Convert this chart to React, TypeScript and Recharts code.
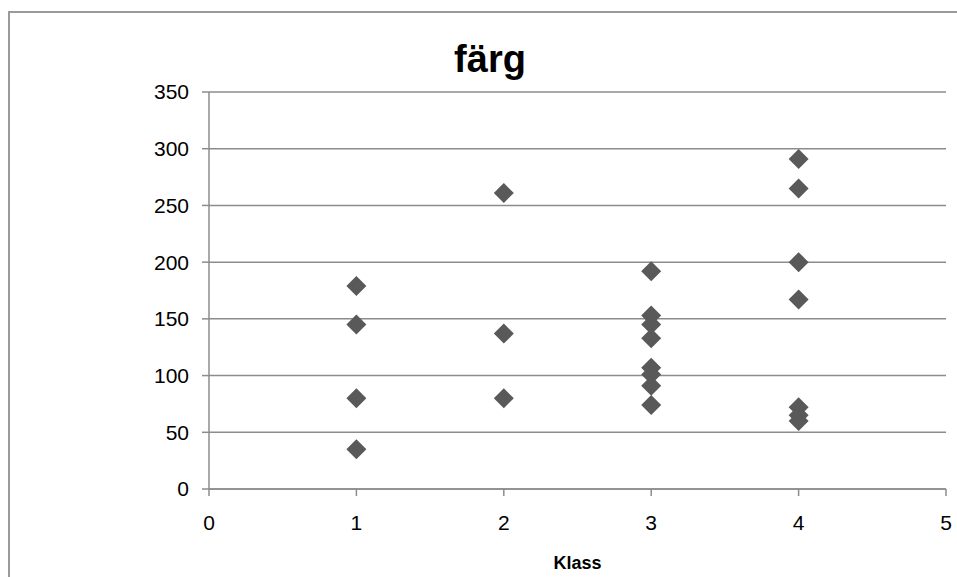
// Scatter chart "färg" — values per Klass (1–4), grey diamond markers.

import { ScatterChart, Scatter, XAxis, YAxis, CartesianGrid } from 'recharts'

const klass = [1, 1, 1, 1, 2, 2, 2, 3, 3, 3, 3, 3, 3, 3, 3, 4, 4, 4, 4, 4, 4, 4]
const farg = [179, 145, 80, 35, 261, 137, 80, 192, 153, 145, 133, 107, 101, 91, 74, 291, 265, 200, 167, 72, 65, 60]
const xTicks = [0, 1, 2, 3, 4, 5]
const yTicks = [0, 50, 100, 150, 200, 250, 300, 350]

const points = klass.map((k, i) => ({ klass: k, farg: farg[i] }))

const FONT = '"Liberation Sans", Arial, sans-serif'

function Diamond(props: any) {
  const { cx, cy } = props
  const r = 10
  return (
    <polygon
      points={`${cx},${cy - r} ${cx + r},${cy} ${cx},${cy + r} ${cx - r},${cy}`}
      fill="#595959"
    />
  )
}

export default function App() {
  return (
    <div style={{ position: 'absolute', left: 0, top: 0, width: 957, height: 577, overflow: 'hidden', background: '#fff' }}>
      <div
        style={{
          position: 'absolute',
          left: 8,
          top: 11,
          width: 960,
          height: 580,
          border: '2px solid #9a9a9a',
        }}
      />
      <svg width={957} height={100} style={{ position: 'absolute', left: 0, top: 0 }}>
        <text x={490} y={72} textAnchor="middle" fontFamily={FONT} fontWeight="bold" fontSize={38} fill="#000">
          färg
        </text>
      </svg>
      <ScatterChart
        width={957}
        height={577}
        margin={{ top: 92, right: 11, bottom: 0, left: 149 }}
        style={{ position: 'absolute', left: 0, top: 0 }}
      >
        <CartesianGrid horizontal vertical={false} stroke="#8c8c8c" strokeWidth={1.5} />
        <XAxis
          type="number"
          dataKey="klass"
          domain={[0, 5]}
          ticks={xTicks}
          height={88}
          tick={{ fontSize: 21, fill: '#000', fontFamily: FONT }}
          tickSize={7}
          tickMargin={19}
          stroke="#8c8c8c"
          strokeWidth={1.5}
          label={{ value: 'Klass', position: 'insideBottom', offset: 8, fontSize: 18, fontWeight: 'bold', fill: '#000', fontFamily: FONT }}
        />
        <YAxis
          type="number"
          dataKey="farg"
          domain={[0, 350]}
          ticks={yTicks}
          width={60}
          tick={{ fontSize: 21, fill: '#000', fontFamily: FONT }}
          tickSize={7}
          tickMargin={13}
          stroke="#8c8c8c"
          strokeWidth={1.5}
        />
        <Scatter data={points} shape={Diamond} isAnimationActive={false} />
      </ScatterChart>
    </div>
  )
}
